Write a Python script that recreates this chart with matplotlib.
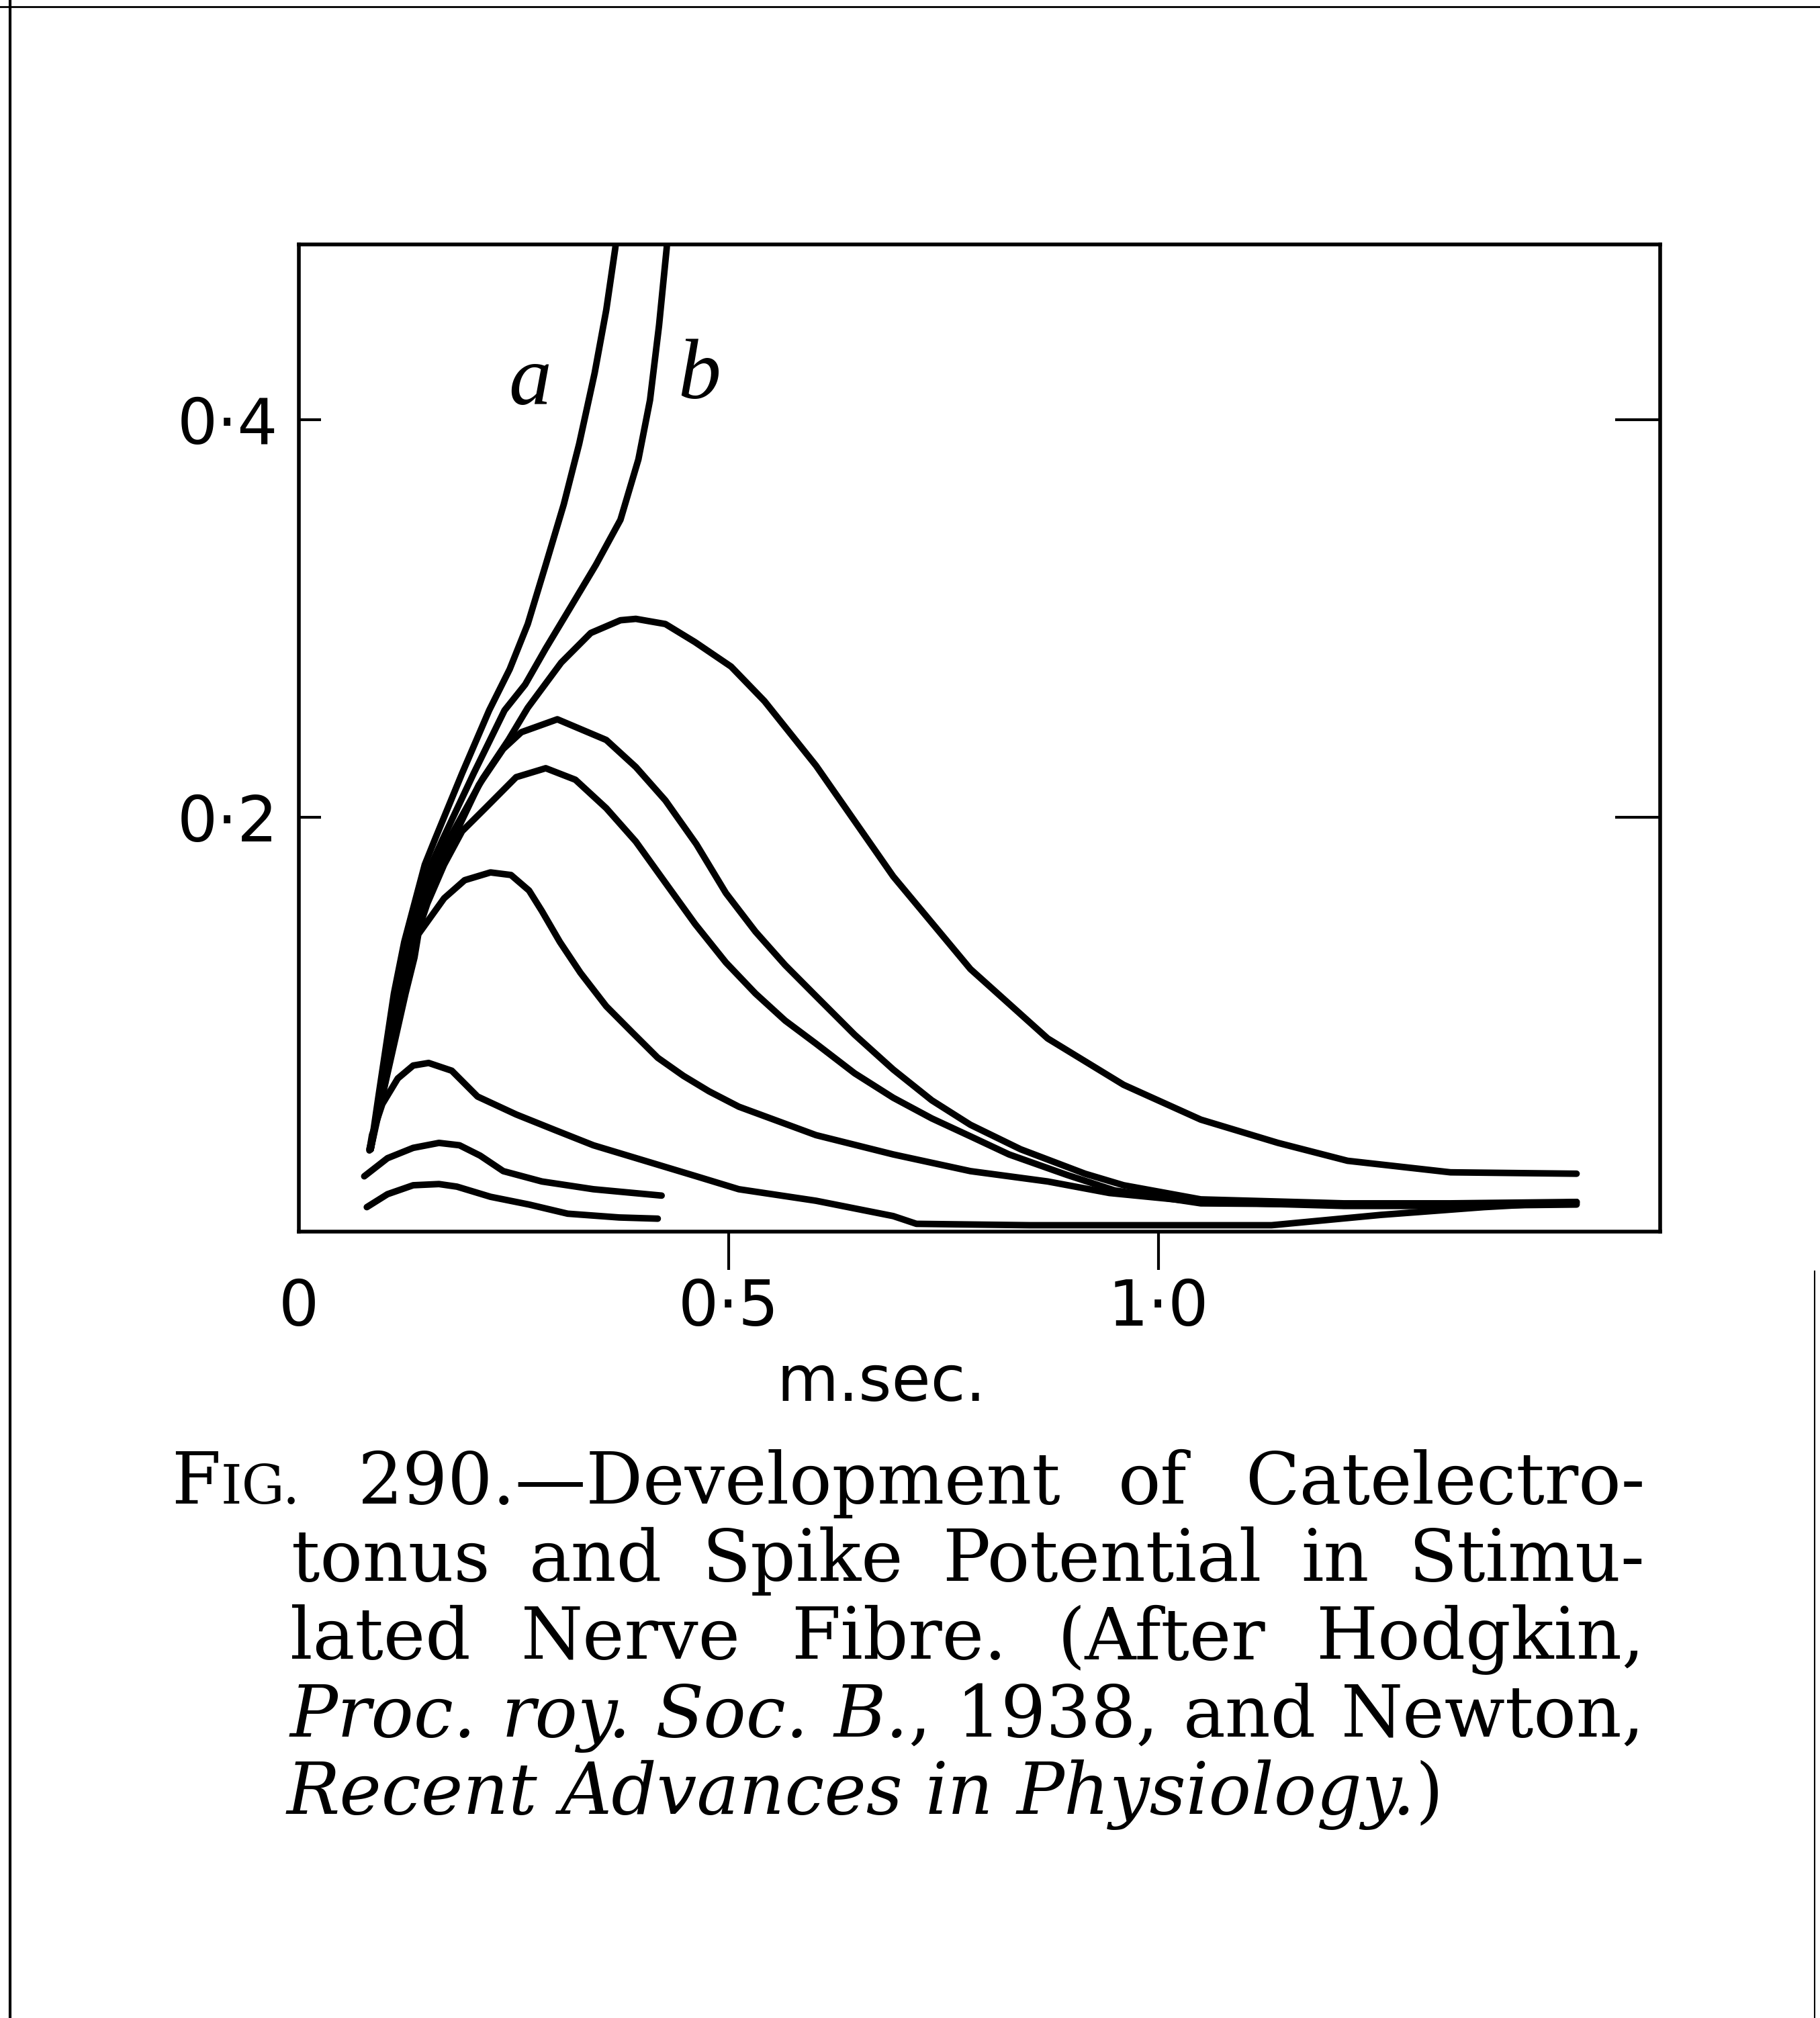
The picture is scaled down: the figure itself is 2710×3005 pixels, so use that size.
import matplotlib
matplotlib.use('Agg')
import matplotlib.pyplot as plt
from matplotlib.lines import Line2D

# curves: time (m.sec.) against potential
a_x = [0.0838, 0.0928, 0.1018, 0.1108, 0.1228, 0.1347, 0.1467, 0.1587, 0.1901, 0.2216,
       0.2455, 0.2665, 0.2874, 0.3084, 0.3263, 0.3443, 0.3578, 0.3683, 0.3720]
a_y = [0.033, 0.0595, 0.0854, 0.1113, 0.1372, 0.1566, 0.1761, 0.189, 0.222, 0.2537,
       0.2744, 0.2971, 0.3269, 0.3573, 0.3877, 0.4233, 0.455, 0.4861, 0.50]

b_x = [0.0838, 0.0943, 0.1033, 0.1138, 0.1272, 0.1407, 0.1542, 0.1677, 0.2036, 0.2395,
       0.2635, 0.2874, 0.3144, 0.3458, 0.3743, 0.3952, 0.4087, 0.4192, 0.4281, 0.4300]
b_y = [0.033, 0.0595, 0.0854, 0.1113, 0.1372, 0.1566, 0.1761, 0.189, 0.222, 0.2537,
       0.2667, 0.2848, 0.3042, 0.3269, 0.3495, 0.3799, 0.4097, 0.4472, 0.4861, 0.50]

c_x = [0.0838, 0.0958, 0.1048, 0.1168, 0.1302, 0.1452, 0.1602, 0.1751, 0.2141, 0.244,
       0.2665, 0.3054, 0.3398, 0.3743, 0.3922, 0.4266, 0.4611, 0.503, 0.5419, 0.6018,
       0.6916, 0.7814, 0.8713, 0.9596, 1.0494, 1.1392, 1.2201, 1.3398, 1.4865]
c_y = [0.033, 0.0595, 0.0854, 0.1113, 0.1372, 0.1566, 0.1761, 0.189, 0.2194, 0.2388,
       0.255, 0.2777, 0.2926, 0.299, 0.2997, 0.2971, 0.288, 0.2757, 0.2583, 0.2259,
       0.1702, 0.1236, 0.0887, 0.0654, 0.0479, 0.0362, 0.0272, 0.0214, 0.0207]

d_x = [0.0838, 0.0958, 0.1063, 0.1183, 0.1317, 0.1467, 0.1632, 0.1796, 0.2096, 0.238,
       0.259, 0.3009, 0.3578, 0.3922, 0.4266, 0.4626, 0.497, 0.5314, 0.5659, 0.6018,
       0.6467, 0.6916, 0.7365, 0.7814, 0.8398, 0.9147, 0.9596, 1.0494, 1.2156, 1.3398, 1.4865]
d_y = [0.033, 0.0595, 0.0854, 0.1113, 0.1372, 0.1566, 0.1761, 0.189, 0.2162, 0.2343,
       0.2427, 0.2492, 0.2388, 0.2252, 0.2084, 0.1864, 0.1618, 0.1424, 0.1256, 0.11,
       0.0906, 0.0731, 0.0576, 0.0453, 0.033, 0.0207, 0.0149, 0.0078, 0.0058, 0.0058, 0.0065]

e_x = [0.0838, 0.0973, 0.1093, 0.1213, 0.1347, 0.1497, 0.1692, 0.1901, 0.2171, 0.253,
       0.2874, 0.3219, 0.3578, 0.3922, 0.4266, 0.4611, 0.497, 0.5314, 0.5659, 0.6018,
       0.6467, 0.6916, 0.7365, 0.7814, 0.8263, 0.8937, 0.9491, 1.0494, 1.2156, 1.3398, 1.4865]
e_y = [0.033, 0.0595, 0.0854, 0.1113, 0.1372, 0.1566, 0.1761, 0.1929, 0.2045, 0.2201,
       0.2246, 0.2188, 0.2045, 0.1877, 0.167, 0.1463, 0.1269, 0.1113, 0.0977, 0.0861,
       0.0712, 0.0589, 0.0485, 0.0395, 0.0304, 0.0201, 0.0123, 0.0058, 0.0052, 0.0052, 0.0058]

f_x = [0.0823, 0.0973, 0.1108, 0.1243, 0.1347, 0.1392, 0.1692, 0.1931, 0.2231, 0.247,
       0.268, 0.2829, 0.3039, 0.3278, 0.3578, 0.3877, 0.4177, 0.4476, 0.4775, 0.512,
       0.6018, 0.6916, 0.7814, 0.8713, 0.9431, 1.0494, 1.2156, 1.3398, 1.4865]
f_y = [0.033, 0.0595, 0.0854, 0.1113, 0.1294, 0.1411, 0.1592, 0.1683, 0.1722, 0.1709,
       0.1631, 0.1528, 0.1372, 0.1217, 0.1049, 0.0919, 0.079, 0.0699, 0.0621, 0.0544,
       0.0401, 0.0304, 0.022, 0.0168, 0.011, 0.0065, 0.0045, 0.0045, 0.0052]

g_x = [0.0823, 0.0853, 0.0973, 0.1153, 0.1332, 0.1512, 0.1781, 0.2081, 0.253, 0.2979,
       0.3428, 0.4027, 0.4626, 0.512, 0.6018, 0.6916, 0.7186, 0.8503, 1.0, 1.1317,
       1.259, 1.3787, 1.4865]
g_y = [0.0324, 0.0401, 0.0557, 0.0686, 0.0751, 0.0764, 0.0725, 0.0595, 0.0505, 0.0427,
       0.035, 0.0272, 0.0194, 0.0129, 0.0071, -0.0006, -0.0045, -0.0052, -0.0052, -0.0052,
       0.0, 0.0039, 0.0065]

h_x = [0.0763, 0.1033, 0.1332, 0.1632, 0.1871, 0.2111, 0.238, 0.2829, 0.3428, 0.4222]
h_y = [0.0194, 0.0285, 0.0337, 0.0362, 0.035, 0.0298, 0.022, 0.0168, 0.0129, 0.0097]

i_x = [0.0793, 0.1033, 0.1332, 0.1632, 0.1841, 0.2231, 0.268, 0.3129, 0.3728, 0.4177]
i_y = [0.0039, 0.0104, 0.0149, 0.0155, 0.0142, 0.0091, 0.0052, 0.0006, -0.0013, -0.0019]

curves = [(a_x, a_y), (b_x, b_y), (c_x, c_y), (d_x, d_y), (e_x, e_y),
          (f_x, f_y), (g_x, g_y), (h_x, h_y), (i_x, i_y)]

x_ticks = [0, 0.5, 1.0]
x_labels = ['0', '0·5', '1·0']
y_ticks = [0.2, 0.4]
y_labels = ['0·2', '0·4']

# caption words: (text, italic, size factor)
caption = [
    [[('F', 0, 1.0), ('IG.', 0, 0.76)], [('290.—Development', 0, 1.0)], [('of', 0, 1.0)],
     [('Catelectro-', 0, 1.0)]],
    [[('tonus', 0, 1.0)], [('and', 0, 1.0)], [('Spike', 0, 1.0)], [('Potential', 0, 1.0)],
     [('in', 0, 1.0)], [('Stimu-', 0, 1.0)]],
    [[('lated', 0, 1.0)], [('Nerve', 0, 1.0)], [('Fibre.', 0, 1.0)], [('(After', 0, 1.0)],
     [('Hodgkin,', 0, 1.0)]],
    [[('Proc.', 1, 1.0)], [('roy.', 1, 1.0)], [('Soc.', 1, 1.0)], [('B.', 1, 1.0), (',', 0, 1.0)],
     [('1938,', 0, 1.0)], [('and', 0, 1.0)], [('Newton,', 0, 1.0)]],
    [[('Recent', 1, 1.0)], [('Advances', 1, 1.0)], [('in', 1, 1.0)], [('Physiology.', 1, 1.0), (')', 0, 1.0)]],
]

W, H = 2710, 3005
fig = plt.figure(figsize=(W / 100, H / 100), dpi=100)
ax = fig.add_axes([0.1641, 0.3897, 0.7482, 0.4892])

for xs, ys in curves:
    ax.plot(xs, ys, color='black', lw=7, solid_capstyle='round', solid_joinstyle='round')

ax.set_xlim(0, 1.584)
ax.set_ylim(-0.0084, 0.488)
for s in ax.spines.values():
    s.set_linewidth(4)

ax.set_xticks(x_ticks)
ax.set_xticklabels(x_labels)
ax.set_yticks(y_ticks)
ax.set_yticklabels(y_labels)
ax.tick_params(axis='x', direction='out', length=41, width=3, pad=8, labelsize=68)
ax.tick_params(axis='y', direction='in', length=24, width=3, pad=22, labelsize=68)
ax.xaxis.get_major_ticks()[0].tick1line.set_visible(False)

ax2 = ax.twinx()
ax2.set_ylim(ax.get_ylim())
ax2.set_yticks(y_ticks)
ax2.tick_params(axis='y', direction='in', length=48, width=3, labelright=False)
for s in ax2.spines.values():
    s.set_visible(False)

ax.text(0.428, -0.154, 'm.sec.', transform=ax.transAxes, ha='center', va='center', fontsize=68)

ax.text(0.269, 0.418, 'a', fontsize=92, style='italic', family='Liberation Serif',
        ha='center', va='center')
ax.text(0.466, 0.421, 'b', fontsize=92, style='italic', family='Liberation Serif',
        ha='center', va='center')

# page border lines of the scan
fig.add_artist(Line2D([0.0055, 0.0055], [0.0, 1.0], color='black', lw=3))
fig.add_artist(Line2D([0.0, 1.0], [0.9967, 0.9967], color='black', lw=2))
fig.add_artist(Line2D([0.997, 0.997], [0.0, 0.37], color='black', lw=1.5))

# justified caption
cap_pt = 76
renderer = fig.canvas.get_renderer()
starts = [255, 434, 432, 432, 427]
right_edge = 2449
base0, lead = 2239, 115.5
for li, words in enumerate(caption):
    objs = []
    widths = []
    for word in words:
        parts = []
        wsum = 0
        for txt, it, sc in word:
            t = fig.text(0, 0, txt, fontsize=cap_pt * sc, family='DejaVu Serif',
                         style='italic' if it else 'normal', va='baseline', ha='left')
            w = t.get_window_extent(renderer).width
            parts.append((t, w))
            wsum += w
        objs.append(parts)
        widths.append(wsum)
    if li < len(caption) - 1:
        gap = (right_edge - starts[li] - sum(widths)) / (len(words) - 1)
    else:
        gap = 0.32 * cap_pt * 100 / 72
    x = starts[li]
    ybase = 1 - (base0 + li * lead) / H
    for parts, wsum in zip(objs, widths):
        xx = x
        for t, w in parts:
            t.set_position((xx / W, ybase))
            xx += w
        x += wsum + gap

fig.savefig('out.png', dpi=100, facecolor='white')
